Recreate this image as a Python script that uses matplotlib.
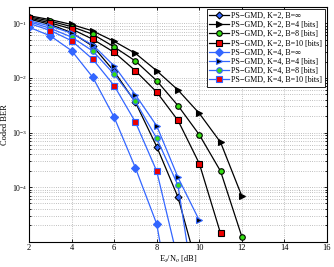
import numpy as np
import matplotlib
matplotlib.use('Agg')
import matplotlib.pyplot as plt

plt.rcParams['font.family'] = ['Liberation Serif', 'DejaVu Serif']
plt.rcParams['mathtext.fontset'] = 'stix'

# Es/No [dB]
snr = [2, 3, 4, 5, 6, 7, 8, 9, 10, 11, 12]

# coded BER, K=2
k2_binf = [0.120, 0.0955, 0.0676, 0.038, 0.0132, 3.55e-3, 5.5e-4, 6.5e-5, 2.5e-6]
k2_b4 = [0.138, 0.117, 0.0955, 0.0724, 0.0468, 0.0282, 0.0135, 6.0e-3, 2.24e-3, 6.6e-4, 6.8e-5]
k2_b8 = [0.132, 0.110, 0.087, 0.063, 0.037, 0.0204, 8.9e-3, 3.1e-3, 9.1e-4, 1.95e-4, 1.23e-5]
k2_b10 = [0.126, 0.102, 0.079, 0.051, 0.0295, 0.0135, 5.5e-3, 1.66e-3, 2.7e-4, 1.41e-5]

# coded BER, K=4
k4_binf = [0.085, 0.059, 0.0316, 0.0102, 1.9e-3, 2.24e-4, 2.1e-5, 1.3e-7]
k4_b4 = [0.112, 0.089, 0.066, 0.040, 0.0166, 4.9e-3, 1.32e-3, 1.5e-4, 2.45e-5]
k4_b8 = [0.107, 0.081, 0.056, 0.031, 0.0117, 3.7e-3, 7.8e-4, 1.07e-4, 3.2e-7]
k4_b10 = [0.100, 0.074, 0.048, 0.0219, 7.2e-3, 1.55e-3, 1.95e-4, 4.5e-6]

labels = ['PS\u2212GMD, K=2, B=\u221e', 'PS\u2212GMD, K=2, B=4 [bits]',
          'PS\u2212GMD, K=2, B=8 [bits]', 'PS\u2212GMD, K=2, B=10 [bits]',
          'PS\u2212GMD, K=4, B=\u221e', 'PS\u2212GMD, K=4, B=4 [bits]',
          'PS\u2212GMD, K=4, B=8 [bits]', 'PS\u2212GMD, K=4, B=10 [bits]']

blue = '#3366ff'
green = '#33dd11'
red = '#ee0000'

series = [
    (k2_binf, 'k', 'D', blue, 'k', 3.5),
    (k2_b4, 'k', '>', 'k', 'k', 4.5),
    (k2_b8, 'k', 'o', green, 'k', 4),
    (k2_b10, 'k', 's', red, 'k', 3.8),
    (k4_binf, blue, 'D', blue, blue, 4),
    (k4_b4, blue, '>', 'k', blue, 4.5),
    (k4_b8, blue, 'o', green, blue, 4),
    (k4_b10, blue, 's', red, blue, 3.8),
]

fig = plt.figure(figsize=(3.34, 2.67), dpi=100)
ax = fig.add_axes([0.087, 0.095, 0.892, 0.879])

for (vals, lc, mk, mfc, mec, ms), lab in zip(series, labels):
    ax.semilogy(snr[:len(vals)], vals, color=lc, marker=mk, markerfacecolor=mfc,
                markeredgecolor=mec, markersize=ms, markeredgewidth=0.8,
                linewidth=0.9, label=lab)

ax.set_xlim(2, 16)
ax.set_ylim(1e-5, 0.2)
ax.set_xticks([2, 4, 6, 8, 10, 12, 14, 16])
ax.set_yticks([1e-4, 1e-3, 1e-2, 1e-1])
ax.grid(True, which='major', linestyle=':', color='#aaaaaa', linewidth=0.6)
ax.grid(True, which='minor', axis='y', linestyle=':', color='#aaaaaa', linewidth=0.6)
ax.tick_params(which='both', direction='in', top=True, right=True, labelsize=6,
               length=2.5, width=0.6, pad=2)
ax.tick_params(axis='y', labelsize=5.5, pad=1.5)
ax.tick_params(which='minor', length=1.5)
for s in ax.spines.values():
    s.set_linewidth(0.8)

ax.set_xlabel(r'E$_s$/N$_o$ [dB]', fontsize=6, labelpad=1)
ax.set_ylabel('Coded BER', fontsize=6)
ax.yaxis.set_label_coords(-0.068, 0.5)

leg = ax.legend(loc='upper right', fontsize=5.8, handlelength=2.4, handletextpad=0.3,
                labelspacing=0.15, borderpad=0.3, borderaxespad=0.3,
                fancybox=False, edgecolor='k', framealpha=1)
leg.get_frame().set_linewidth(0.6)

fig.savefig('out.png', dpi=100)
